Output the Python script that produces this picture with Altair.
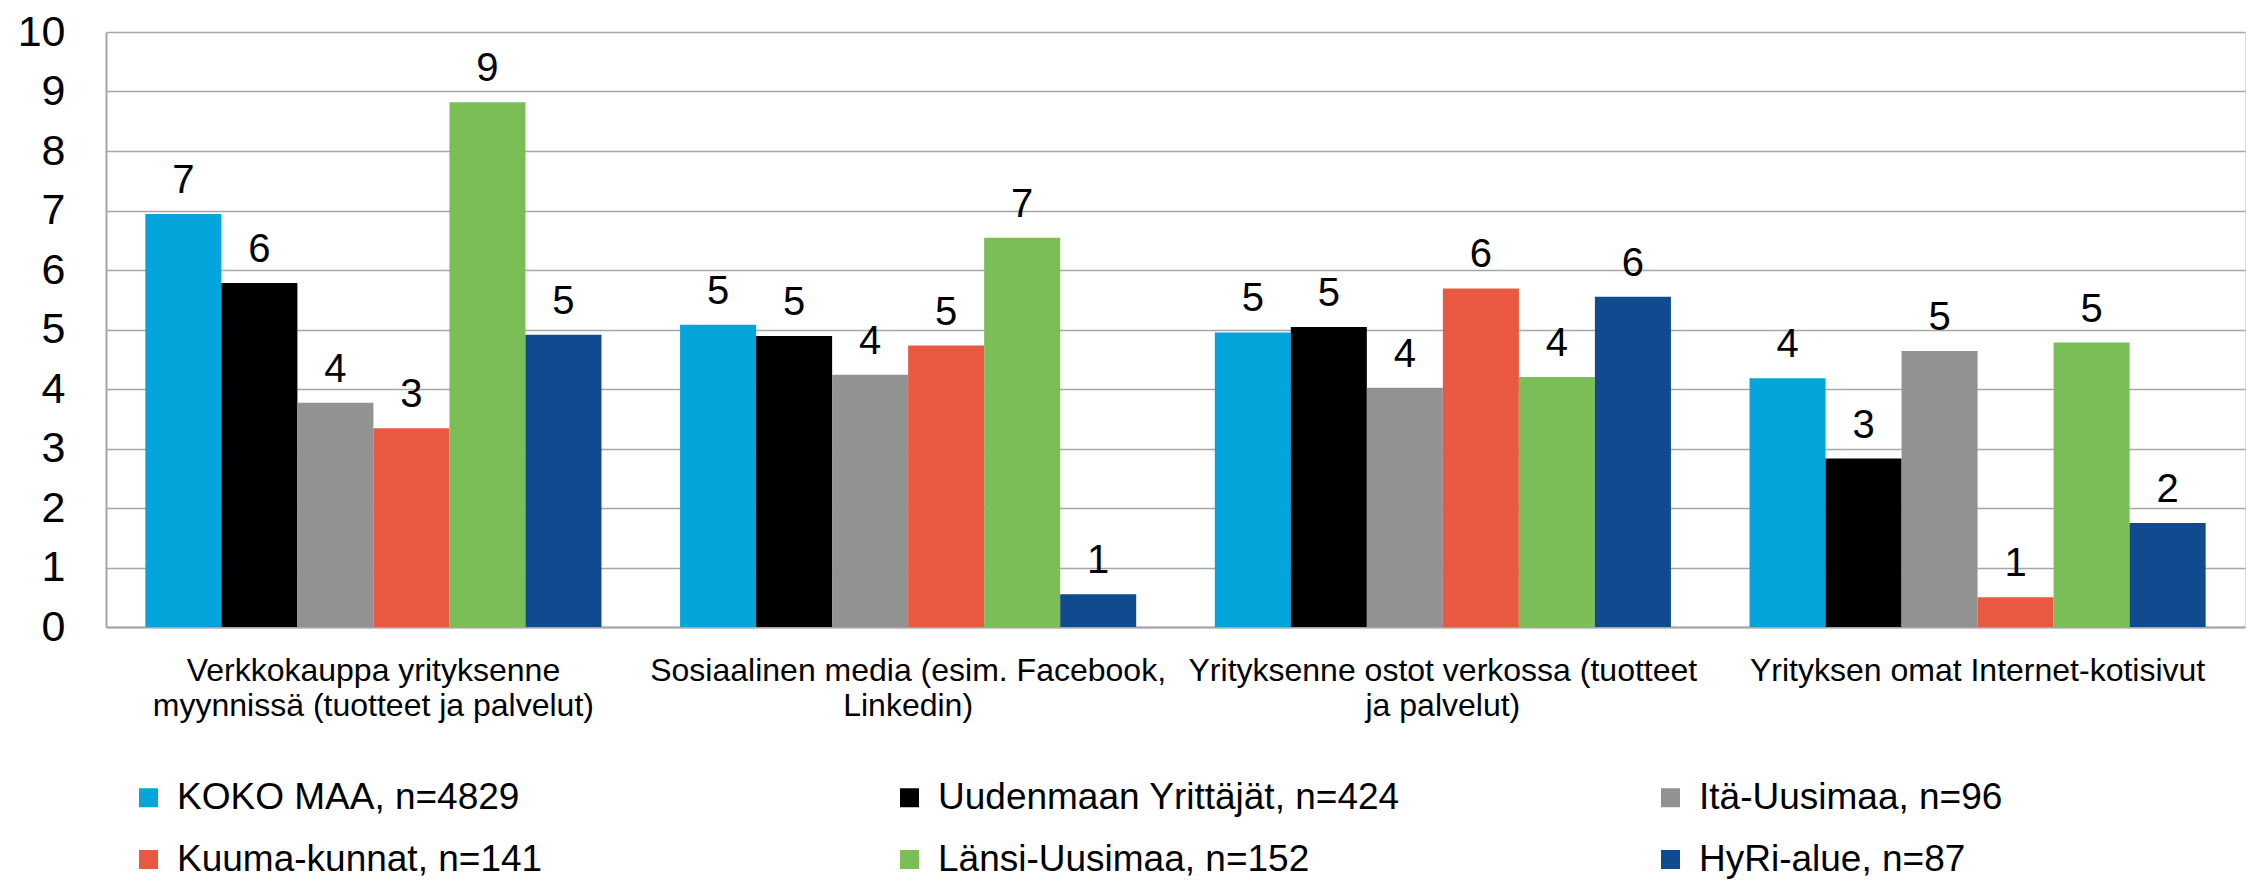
import altair as alt
import pandas as pd

# ---------------- data ----------------
CATEGORIES = [
    "Verkkokauppa yrityksenne\nmyynnissä (tuotteet ja palvelut)",
    "Sosiaalinen media (esim. Facebook,\nLinkedin)",
    "Yrityksenne ostot verkossa (tuotteet\nja palvelut)",
    "Yrityksen omat Internet-kotisivut",
]
SERIES = [
    "KOKO MAA, n=4829",
    "Uudenmaan Yrittäjät, n=424",
    "Itä-Uusimaa, n=96",
    "Kuuma-kunnat, n=141",
    "Länsi-Uusimaa, n=152",
    "HyRi-alue, n=87",
]
COLORS = ["#03A5DA", "#000000", "#929292", "#E95841", "#7BBD57", "#104A8F"]

KOKO_MAA = [6.94, 5.08, 4.95, 4.18]
UUDENMAAN = [5.78, 4.89, 5.04, 2.83]
ITA_UUSIMAA = [3.77, 4.24, 4.02, 4.64]
KUUMA = [3.34, 4.73, 5.69, 0.50]
LANSI_UUSIMAA = [8.82, 6.54, 4.20, 4.78]
HYRI = [4.91, 0.55, 5.55, 1.75]

LABEL_KOKO_MAA = [7, 5, 5, 4]
LABEL_UUDENMAAN = [6, 5, 5, 3]
LABEL_ITA_UUSIMAA = [4, 4, 4, 5]
LABEL_KUUMA = [3, 5, 6, 1]
LABEL_LANSI_UUSIMAA = [9, 7, 4, 5]
LABEL_HYRI = [5, 1, 6, 2]

Y_TICKS = list(range(0, 11))

values = [KOKO_MAA, UUDENMAAN, ITA_UUSIMAA, KUUMA, LANSI_UUSIMAA, HYRI]
labels = [LABEL_KOKO_MAA, LABEL_UUDENMAAN, LABEL_ITA_UUSIMAA, LABEL_KUUMA,
          LABEL_LANSI_UUSIMAA, LABEL_HYRI]

rows = []
for s, vals, labs in zip(SERIES, values, labels):
    for c, v, l in zip(CATEGORIES, vals, labs):
        rows.append({"category": c, "series": s, "value": v, "label": str(l)})
df = pd.DataFrame(rows)

FONT = "Liberation Sans, Arial, sans-serif"
GRID = "#A6A6A6"

x = alt.X(
    "category:N",
    sort=CATEGORIES,
    scale=alt.Scale(paddingInner=0.147, paddingOuter=0.0736),
    axis=alt.Axis(
        title=None,
        labelAngle=0,
        labelExpr="split(datum.label, '\\n')",
        labelFontSize=32,
        labelLineHeight=35,
        labelPadding=28,
        labelFont=FONT,
        labelColor="#000000",
        labelLimit=1000,
        ticks=False,
        domainColor=GRID,
        domainWidth=2,
        grid=False,
    ),
)
xoff = alt.XOffset("series:N", sort=SERIES,
                   scale=alt.Scale(paddingInner=0, paddingOuter=0))
y = alt.Y(
    "value:Q",
    scale=alt.Scale(domain=[0, 10], nice=False),
    axis=alt.Axis(
        title=None,
        values=Y_TICKS,
        labelFontSize=43,
        labelPadding=41,
        labelFont=FONT,
        labelColor="#000000",
        ticks=False,
        domainColor=GRID,
        domainWidth=2,
        grid=True,
        gridColor=GRID,
        gridWidth=1.6,
    ),
)
color = alt.Color(
    "series:N",
    sort=SERIES,
    scale=alt.Scale(domain=SERIES, range=COLORS),
    legend=alt.Legend(
        title=None,
        orient="none",
        legendX=24,
        legendY=747,
        direction="horizontal",
        columns=3,
        gridAlign="all",
        symbolType="square",
        symbolSize=361,
        symbolStrokeWidth=0,
        symbolOpacity=1,
        labelFontSize=37,
        labelFont=FONT,
        labelColor="#000000",
        labelOffset=10,
        labelLimit=1000,
        columnPadding=252,
        rowPadding=24,
        padding=0,
    ),
)

bars = alt.Chart(df).mark_bar().encode(x=x, xOffset=xoff, y=y, color=color)
text = alt.Chart(df).mark_text(
    baseline="alphabetic", dy=-21, fontSize=40, font=FONT, color="#000000"
).encode(x=x, xOffset=xoff, y=y, text="label:N")

chart = (
    alt.layer(bars, text)
    .properties(
        width=2139,
        height=595,
        autosize=alt.AutoSizeParams(type="none"),
        padding={"left": 98, "top": 24, "right": 1, "bottom": 253},
    )
    .configure_view(stroke=GRID, strokeWidth=2)
    .configure(background="#FFFFFF")
)

chart.save("out.html", embed_options={"renderer": "svg", "actions": False})
